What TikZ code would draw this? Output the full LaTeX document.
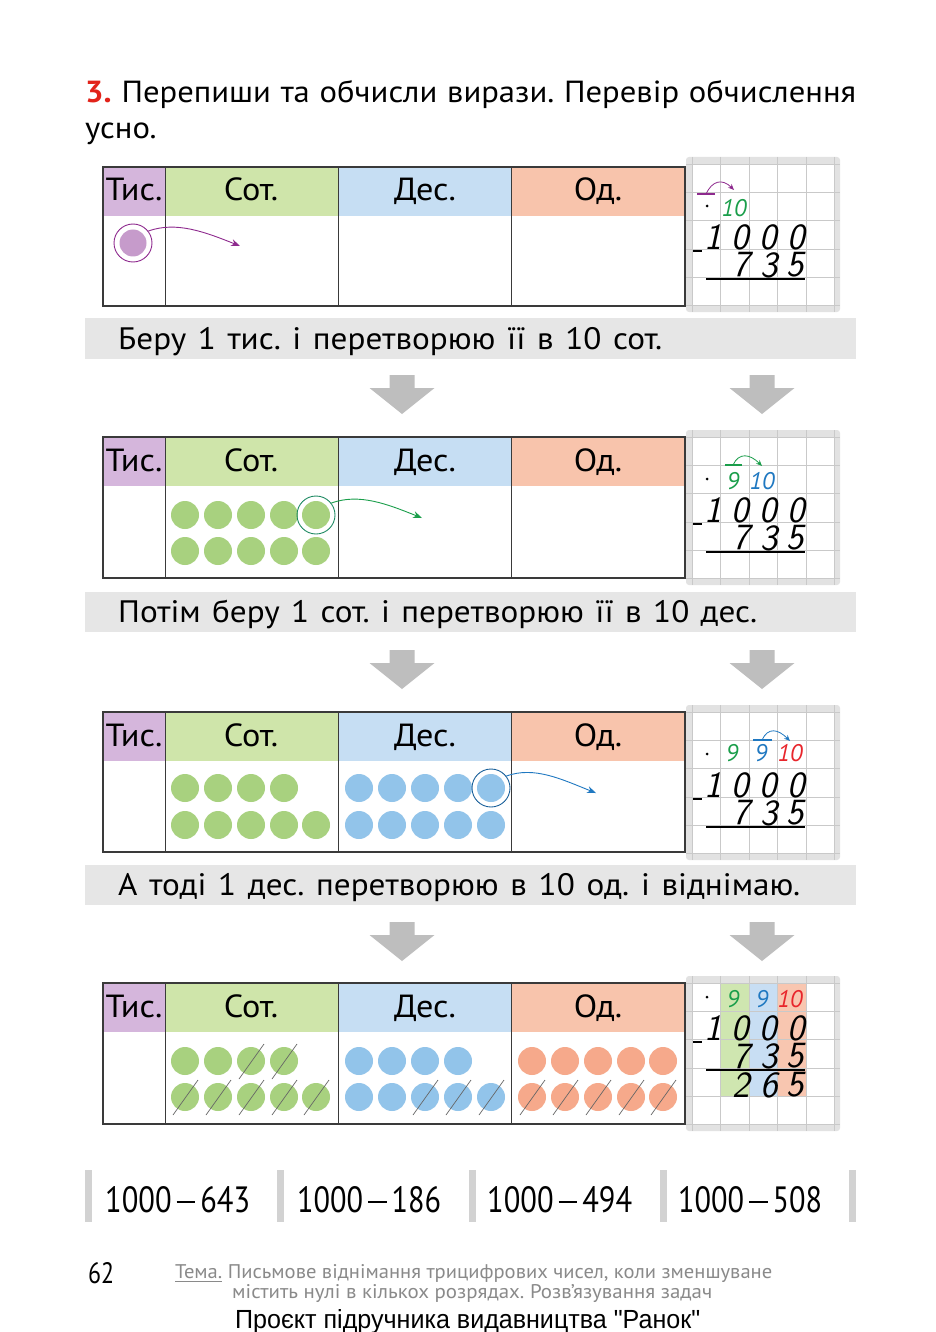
\documentclass[tikz,border=0pt]{standalone}
\usepackage{fontspec}
\setmainfont{PT Sans}[FakeStretch=1.07]
\newfontfamily\plainsans{PT Sans}
\newfontfamily\libsans{Liberation Sans}
\usetikzlibrary{arrows.meta}
\frenchspacing
\definecolor{tred}{HTML}{E2231A}
\definecolor{hpurple}{HTML}{D5B6DC}
\definecolor{hgreen}{HTML}{CFE5AA}
\definecolor{hblue}{HTML}{C6DEF3}
\definecolor{hsalm}{HTML}{F8C4AC}
\definecolor{cpurple}{HTML}{C69BCB}
\definecolor{cgreen}{HTML}{A8D17F}
\definecolor{cblue}{HTML}{92C4EA}
\definecolor{csalm}{HTML}{F6A98B}
\definecolor{barg}{HTML}{E6E6E6}
\definecolor{arrg}{HTML}{BEBEBE}
\definecolor{gbord}{HTML}{E2E2E2}
\definecolor{gline}{HTML}{C9C9C9}
\definecolor{tlinec}{HTML}{3A3A3A}
\definecolor{apurple}{HTML}{8E2A8E}
\definecolor{agreen}{HTML}{1A9E4A}
\definecolor{ateal}{HTML}{1F8A63}
\definecolor{ablue}{HTML}{1F78C1}
\definecolor{ared}{HTML}{E8252B}
\definecolor{pgreen}{HTML}{CFE6B0}
\definecolor{pblue}{HTML}{C8DEF3}
\definecolor{psalm}{HTML}{F8C6B0}
\definecolor{foot}{HTML}{8A8A8A}
\definecolor{vbar}{HTML}{D2D2D2}
\tikzset{
  tline/.style={draw=tlinec, line width=1.5pt},
  cline/.style={draw=tlinec, line width=1pt},
  hdr/.style={anchor=base, inner sep=0, font=\fontsize{32}{32}\selectfont},
  bartxt/.style={anchor=base west, inner sep=0, font=\fontsize{31}{31}\selectfont},
  dotbase/.style={circle, inner sep=0, minimum size=28pt},
  dotg/.style={dotbase, fill=cgreen},
  dotb/.style={dotbase, fill=cblue},
  dots/.style={dotbase, fill=csalm},
  dotp/.style={dotbase, fill=cpurple},
  ring/.style={circle, inner sep=0, minimum size=38pt, line width=0.9pt},
  slash/.style={draw=gray!80!black, line width=0.7pt},
  arr/.style={line width=0.9pt, -{Stealth[length=9pt,width=7pt]}},
  sarr/.style={line width=0.8pt, -{Stealth[length=6pt,width=5pt]}},
  hw/.style={inner sep=0, font=\sffamily\itshape\fontsize{37}{37}\selectfont},
  an/.style={inner sep=0, font=\plainsans\itshape\fontsize{24}{24}\selectfont},
  expr/.style={inner sep=0, anchor=west},
}
\newcommand\tablerow[3]{%
  \fill[hpurple] (103,#1) rectangle (165,#1+49);
  \fill[hgreen] (165,#1) rectangle (338,#1+49);
  \fill[hblue] (338,#1) rectangle (511,#1+49);
  \fill[hsalm] (511,#1) rectangle (685,#1+49);
  \draw[cline] (165,#1) -- (165,#1+#2) (338,#1) -- (338,#1+#2) (511,#1) -- (511,#1+#2);
  \draw[tline] (103,#1) rectangle (685,#1+#2);
  \node[hdr] (#3t) at (134,#1+34) {Тис.};
  \node[hdr] (#3s) at (251,#1+34) {Сот.};
  \node[hdr] (#3d) at (425,#1+34) {Дес.};
  \node[hdr] (#3o) at (598,#1+34) {Од.};
}
\newcommand\gpanel[2]{%
  \fill[gbord, rounded corners=3pt] (686,#1-7) rectangle (840,#1+148);
  \fill[white] (692,#1) rectangle (834.5,#1+141.5);
  #2
  \foreach \k in {0,...,5} {
    \draw[gline, line width=0.7pt] (692+\k*28.5,#1-7) -- (692+\k*28.5,#1+148);
    \draw[gline, line width=0.7pt] (686,#1+\k*28.3) -- (840,#1+\k*28.3);
  }
}
% handwritten numbers: #1 top of grid, #2 prefix
\newcommand\handnums[2]{%
  \node[hw] (#2a1) at (713,#1+73) {1};
  \node[hw] (#2a2) at (740,#1+73) {0};
  \node[hw] (#2a3) at (768,#1+73) {0};
  \node[hw] (#2a4) at (796,#1+73) {0};
  \node[hw] (#2b1) at (741,#1+101) {7};
  \node[hw] (#2b2) at (769,#1+101) {3};
  \node[hw] (#2b3) at (795,#1+101) {5};
  \draw[line width=1.3pt] (693,#1+87) -- (702,#1+87);
  \draw[line width=1.5pt] (706,#1+115) -- (805,#1+115);
  \fill (707,#1+42) circle (1.5pt);
}
\newcommand\slashit[1]{\draw[slash] ([shift={(-12,18)}]#1.center) -- ([shift={(13,-17)}]#1.center);}
\newcommand\grayarrow[2]{% #1 center x, #2 top y
  \fill[arrg] (#1-12.5,#2) -- (#1+12.5,#2) -- (#1+12.5,#2+13) -- (#1+32.5,#2+13) -- (#1,#2+39) -- (#1-32.5,#2+13) -- (#1-12.5,#2+13) -- cycle;
}
\newcommand\mdash{\kern0.16em\rule[0.27em]{0.62em}{0.065em}\kern0.16em}
\begin{document}
\begin{tikzpicture}[x=1pt,y=-1pt]
\useasboundingbox (0,0) rectangle (935,1332);
\fill[white] (0,0) rectangle (935,1332);

% title
\node[anchor=base west, inner sep=0, font=\fontsize{30.5}{31}\selectfont] (title1) at (85,103)
  {\makebox[771pt][s]{{\color{tred}\bfseries 3.} Перепиши та обчисли вирази. Перевір обчислення}};
\node[anchor=base west, inner sep=0, font=\fontsize{30.5}{31}\selectfont] (title2) at (85,139) {усно.};

% ===== Row 1 =====
\gpanel{164}{}
\tablerow{167}{139}{ta}
\node[dotp, minimum size=27pt] (p1) at (133,243) {};
\node[ring, draw=apurple] (ring1) at (133,243) {};
\coordinate (tip1) at (240,246);
\draw[arr, apurple] (ring1.38) .. controls +(28,-10) and +(-35,-14) .. (tip1);
\handnums{164}{ga}
\node[an, text=agreen] (ga10) at (734,208) {10};
\coordinate (gabar) at (706,194);
\draw[apurple, line width=1.6pt] (697,194) -- (715,194);
\coordinate (gatip) at (734,190);
\draw[sarr, apurple] (gabar) .. controls +(6,-13) and +(-12,-12) .. (gatip);

\fill[barg] (85,318) rectangle (856,359);
\node[bartxt] (bar1) at (118,349) {\makebox[544pt][s]{Беру 1 тис. і перетворюю її в 10 сот.}};

\grayarrow{402}{375}
\grayarrow{762}{375}

% ===== Row 2 =====
\gpanel{437}{}
\tablerow{437}{141}{tb}
\foreach \x [count=\i] in {185,218,251,284,316} {
  \node[dotg] (bsa\i) at (\x,515) {};
  \node[dotg] (bsb\i) at (\x,551) {};
}
\node[ring, draw=ateal] (ring2) at (bsa5) {};
\coordinate (tip2) at (422,518);
\draw[arr, agreen] (ring2.38) .. controls +(28,-10) and +(-35,-14) .. (tip2);
\handnums{437}{gb}
\node[an, text=agreen] (gb9) at (733,481) {9};
\node[an, text=ablue] (gb10) at (762,481) {10};
\coordinate (gbbar) at (733,465);
\draw[agreen, line width=1.6pt] (725,465) -- (742,465);
\coordinate (gbtip) at (762,466);
\draw[sarr, agreen] (gbbar) .. controls +(6,-13) and +(-12,-12) .. (gbtip);

\fill[barg] (85,592) rectangle (856,632);
\node[bartxt] (bar2) at (118,622) {\makebox[639pt][s]{Потім беру 1 сот. і перетворюю її в 10 дес.}};

\grayarrow{402}{650}
\grayarrow{762}{650}

% ===== Row 3 =====
\gpanel{712}{}
\tablerow{712}{140}{tc}
\foreach \x [count=\i] in {185,218,251,284} {\node[dotg] (csa\i) at (\x,788) {};}
\foreach \x [count=\i] in {185,218,251,284,316} {\node[dotg] (csb\i) at (\x,825) {};}
\foreach \x [count=\i] in {359,392,425,458,491} {
  \node[dotb] (cda\i) at (\x,788) {};
  \node[dotb] (cdb\i) at (\x,825) {};
}
\node[ring, draw=ablue!80!black] (ring3) at (cda5) {};
\coordinate (tip3) at (596,793);
\draw[arr, ablue] (ring3.38) .. controls +(28,-10) and +(-35,-14) .. (tip3);
\handnums{712}{gc}
\node[an, text=agreen] (gc9a) at (732,753) {9};
\node[an, text=ablue] (gc9b) at (761,753) {9};
\node[an, text=ared] (gc10) at (790,753) {10};
\coordinate (gcbar) at (762,740);
\draw[ablue, line width=1.6pt] (753,740) -- (772,740);
\coordinate (gctip) at (790,741);
\draw[sarr, ablue] (gcbar) .. controls +(6,-13) and +(-12,-12) .. (gctip);

\fill[barg] (85,865) rectangle (856,905);
\node[bartxt] (bar3) at (118,895) {\makebox[682pt][s]{А тоді 1 дес. перетворюю в 10 од. і віднімаю.}};

\grayarrow{402}{922}
\grayarrow{762}{922}

% ===== Row 4 =====
\gpanel{983}{%
  \fill[pgreen] (720.5,983) rectangle (749,1097);
  \fill[pblue] (749,983) rectangle (777.5,1097);
  \fill[psalm] (777.5,983) rectangle (806,1097);
}
\tablerow{983}{141}{td}
\foreach \x [count=\i] in {185,218,251,284} {\node[dotg] (dsa\i) at (\x,1061) {};}
\foreach \x [count=\i] in {185,218,251,284,316} {\node[dotg] (dsb\i) at (\x,1097) {};}
\foreach \x [count=\i] in {359,392,425,458} {\node[dotb] (dda\i) at (\x,1061) {};}
\foreach \x [count=\i] in {359,392,425,458,491} {\node[dotb] (ddb\i) at (\x,1097) {};}
\foreach \x [count=\i] in {532,565,598,631,663} {
  \node[dots] (doa\i) at (\x,1061) {};
  \node[dots] (dob\i) at (\x,1097) {};
}
\slashit{dsa3}\slashit{dsa4}
\foreach \i in {1,...,5} {\slashit{dsb\i}\slashit{dob\i}}
\slashit{ddb3}\slashit{ddb4}\slashit{ddb5}
\handnums{955}{gd}
\node[hw] (gdc1) at (741,1085) {2};
\node[hw] (gdc2) at (769,1085) {6};
\node[hw] (gdc3) at (795,1085) {5};
\node[an, text=agreen] (gd9a) at (733,999) {9};
\node[an, text=ablue] (gd9b) at (762,999) {9};
\node[an, text=ared] (gd10) at (790,999) {10};

% ===== bottom expressions =====
\foreach \x in {85,277,469,660,849} {\fill[vbar] (\x,1170) rectangle (\x+7,1222);}
\node[expr] (e1) at (105,1200) {\resizebox{145pt}{26pt}{\plainsans 1000\mdash643}};
\node[expr] (e2) at (297,1200) {\resizebox{144pt}{26pt}{\plainsans 1000\mdash186}};
\node[expr] (e3) at (487,1200) {\resizebox{145pt}{26pt}{\plainsans 1000\mdash494}};
\node[expr] (e4) at (678,1200) {\resizebox{144pt}{26pt}{\plainsans 1000\mdash508}};

% ===== footer =====
\node[anchor=base west, inner sep=0] (pg) at (88,1283) {\resizebox{26pt}{21pt}{\plainsans 62}};
\node[anchor=base west, inner sep=0, text=foot] (tema1) at (175,1278)
  {\resizebox{597pt}{14pt}{\plainsans\underline{Тема.} Письмове віднімання трицифрових чисел, коли зменшуване}};
\node[anchor=base west, inner sep=0, text=foot] (tema2) at (232,1298)
  {\resizebox{480pt}{14pt}{\plainsans містить нулі в кількох розрядах. Розв’язування задач}};
\node[anchor=base west, inner sep=0] (proj) at (235,1328)
  {\resizebox{465pt}{19pt}{\libsans Проєкт підручника видавництва "Ранок"}};
\end{tikzpicture}
\end{document}
